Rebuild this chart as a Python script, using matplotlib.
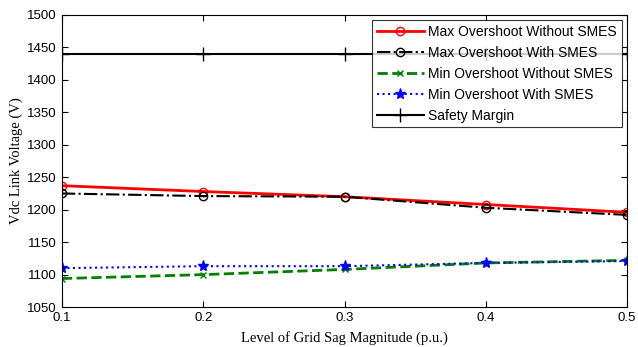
import matplotlib
matplotlib.use('Agg')
import matplotlib.pyplot as plt

sag = [0.1, 0.2, 0.3, 0.4, 0.5]
max_without = [1237, 1228, 1220, 1208, 1196]
max_with = [1225, 1221, 1220, 1203, 1192]
min_without = [1094, 1100, 1108, 1118, 1122]
min_with = [1110, 1113, 1113, 1118, 1121]
safety = [1440, 1440, 1440, 1440, 1440]

fig = plt.figure(figsize=(6.38, 3.47), dpi=100)
ax = fig.add_axes([0.097, 0.115, 0.886, 0.842])

ax.plot(sag, max_without, 'r-o', lw=2, mfc='none', ms=6, label='Max Overshoot Without SMES')
ax.plot(sag, max_with, 'k-.o', lw=1.5, mfc='none', ms=6, label='Max Overshoot With SMES')
ax.plot(sag, min_without, color='green', ls='--', marker='x', lw=2, ms=5, label='Min Overshoot Without SMES')
ax.plot(sag, min_with, 'b:*', lw=1.5, ms=8, label='Min Overshoot With SMES')
ax.plot(sag, safety, 'k-+', lw=1.5, ms=10, label='Safety Margin')

ax.set_xlim(0.1, 0.5)
ax.set_ylim(1050, 1500)
ax.set_xticks(sag)
ax.set_xticklabels(['0.1', '0.2', '0.3', '0.4', '0.5'])
ax.set_yticks(range(1050, 1501, 50))
ax.tick_params(direction='in', top=True, right=True, labelsize=9.5, length=4)
for t in ax.get_xticklabels() + ax.get_yticklabels():
    t.set_family('Liberation Sans')

ax.set_xlabel('Level of Grid Sag Magnitude (p.u.)', family='Liberation Serif', fontsize=10.5, labelpad=5)
ax.set_ylabel('Vdc Link Voltage (V)', family='Liberation Serif', fontsize=10.5, labelpad=3)

leg = ax.legend(loc='upper right', bbox_to_anchor=(0.99, 0.983), borderaxespad=0,
                fancybox=False, edgecolor='black',
                prop={'family': 'Liberation Sans', 'size': 10}, handlelength=3.4, borderpad=0.35,
                labelspacing=0.5, handletextpad=0.3)
leg.get_frame().set_linewidth(0.8)

fig.savefig('out.png', dpi=100)
